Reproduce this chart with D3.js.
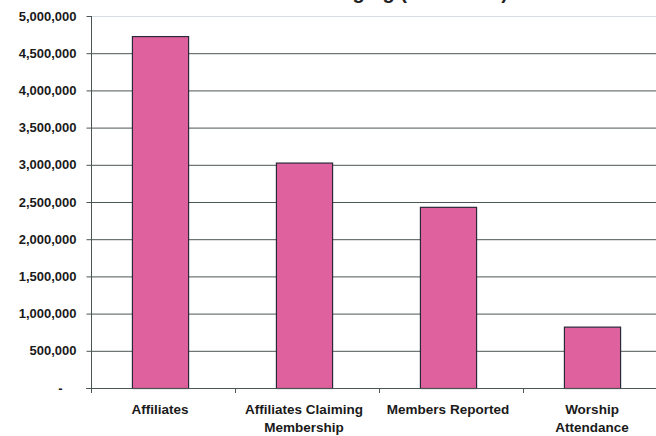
<!DOCTYPE html>
<html lang="en">
  <head>
    <meta charset="UTF-8" />
    <title>Belonging</title>
    <script src="https://d3js.org/d3.v7.min.js"></script>
    <style>
      body { margin: 0; background: #fff; }
      svg { display: block; font-family: "Liberation Sans", Arial, sans-serif; }
      .tick text { font-weight: bold; font-size: 13px; fill: #1a1a1a; }
    </style>
  </head>
  <body>
    <svg id="canvas"></svg>
  </body>
  <script>
    let categories = [
      ["Affiliates"],
      ["Affiliates Claiming", "Membership"],
      ["Members Reported"],
      ["Worship", "Attendance"],
    ];
    let values = [4730000, 3030000, 2435000, 825000];
    let yTicks = [0, 500000, 1000000, 1500000, 2000000, 2500000, 3000000, 3500000, 4000000, 4500000, 5000000];

    let width = 656;
    let height = 436;
    let plotLeft = 91;
    let plotRight = 667;
    let plotTop = 16;
    let plotBottom = 388;

    let svg = d3.select("svg").attr("width", width).attr("height", height);

    // cut-off title, only its bottom shows
    svg.append("text")
      .attr("x", 508)
      .attr("y", -1)
      .attr("text-anchor", "end")
      .style("font-size", "20px")
      .style("font-weight", "bold")
      .attr("fill", "#222")
      .text("Measures of Belonging (Estimates)");

    let xScale = d3.scaleBand()
      .domain(d3.range(categories.length))
      .range([plotLeft - 3, plotRight - 3])
      .paddingInner(0.61)
      .paddingOuter(0.305);

    let yScale = d3.scaleLinear().domain([0, 5000000]).range([plotBottom, plotTop]);

    // gridlines
    svg.append("g")
      .selectAll("line")
      .data(yTicks.filter((d) => d > 0))
      .enter()
      .append("line")
      .attr("x1", plotLeft)
      .attr("x2", width)
      .attr("y1", (d) => yScale(d) + 0.5)
      .attr("y2", (d) => yScale(d) + 0.5)
      .attr("stroke", (d) => (d === 5000000 ? "#d8dce4" : "#4a5654"))
      .attr("stroke-width", 1);

    svg.append("g")
      .selectAll("rect")
      .data(values)
      .enter()
      .append("rect")
      .attr("x", (d, i) => xScale(i) + 0.5)
      .attr("y", (d) => yScale(d) + 0.5)
      .attr("width", xScale.bandwidth())
      .attr("height", (d) => plotBottom - yScale(d))
      .attr("fill", "#df619d")
      .attr("stroke", "#2a2a3a")
      .attr("stroke-width", 1.2);

    let yAxis = d3.axisLeft(yScale)
      .tickValues(yTicks)
      .tickSize(5)
      .tickPadding(10)
      .tickFormat((d) => (d === 0 ? "-" : d3.format(",")(d)));

    let gy = svg.append("g")
      .attr("transform", "translate(" + (plotLeft + 0.5) + ",0)")
      .call(yAxis);
    gy.select(".domain").attr("stroke", "#4a5654").attr("d", "M0," + plotTop + "V" + plotBottom);
    gy.selectAll(".tick line").attr("stroke", "#4a5654");
    // accounting style dash for zero
    gy.selectAll(".tick text").filter((d) => d === 0).attr("dx", -14);

    // x axis with ticks at band boundaries
    let bounds = d3.range(categories.length + 1).map((i) => plotLeft + i * (plotRight - plotLeft) / categories.length);
    let gx = svg.append("g");
    gx.append("line")
      .attr("x1", plotLeft - 5)
      .attr("x2", width)
      .attr("y1", plotBottom + 0.5)
      .attr("y2", plotBottom + 0.5)
      .attr("stroke", "#4a5654");
    gx.selectAll(".xt")
      .data(bounds)
      .enter()
      .append("line")
      .attr("x1", (d) => d + 0.5)
      .attr("x2", (d) => d + 0.5)
      .attr("y1", plotBottom)
      .attr("y2", plotBottom + 5)
      .attr("stroke", "#4a5654");

    let labels = gx.selectAll(".xl")
      .data(categories)
      .enter()
      .append("text")
      .attr("text-anchor", "middle")
      .style("font-size", "13.5px")
      .style("font-weight", "bold")
      .attr("fill", "#1a1a1a");
    labels.each(function (lines, i) {
      let cx = xScale(i) + xScale.bandwidth() / 2;
      d3.select(this)
        .selectAll("tspan")
        .data(lines)
        .enter()
        .append("tspan")
        .attr("x", cx)
        .attr("y", (d, j) => 414 + j * 18)
        .text((d) => d);
    });
  </script>
</html>
